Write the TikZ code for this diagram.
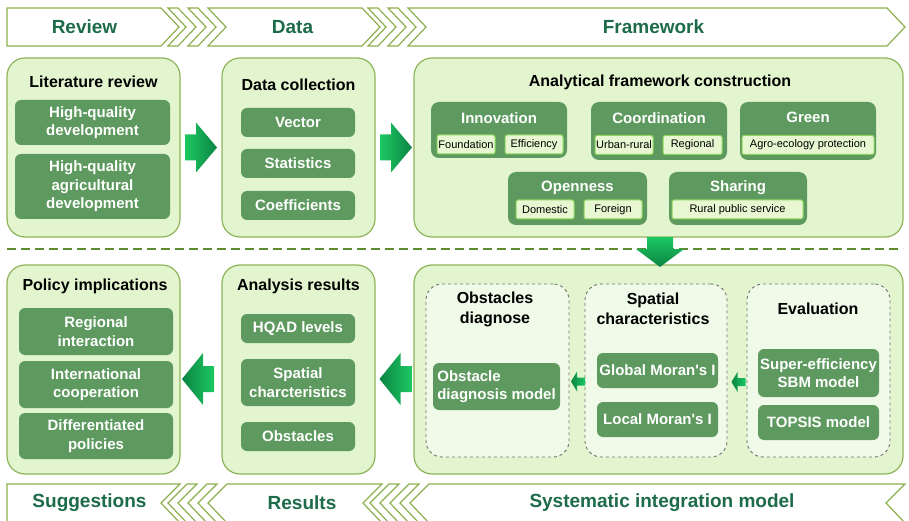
\documentclass[tikz,border=0pt]{standalone}
\usepackage{fontspec}
\setmainfont{Liberation Sans}[Ligatures=TeXOff]
\usetikzlibrary{positioning}
\definecolor{panelfill}{HTML}{E2F5CE}
\definecolor{panelline}{HTML}{8FB35A}
\definecolor{boxgreen}{HTML}{5E9A5F}
\definecolor{subfill}{HTML}{E6F7D2}
\definecolor{subline}{HTML}{8CD45A}
\definecolor{dashfill}{HTML}{F0FAE8}
\definecolor{bannerline}{HTML}{8DB04F}
\definecolor{bannertext}{HTML}{1D6B4A}
\definecolor{arrlight}{HTML}{1DC862}
\definecolor{arrdark}{HTML}{0B8443}
\definecolor{sepline}{HTML}{5E8A30}
\newcommand{\banfont}{\fontsize{19}{22}\selectfont\bfseries}
\newcommand{\ttlfont}{\fontsize{16}{20}\selectfont\bfseries}
\newcommand{\boxfont}{\fontsize{15}{18.5}\selectfont\bfseries}
\newcommand{\subfont}{\fontsize{11}{13}\selectfont}
\begin{document}
\begin{tikzpicture}[x=1pt,y=-1pt,
    banner/.style={draw=bannerline, fill=white, line width=1.2pt},
    bantext/.style={text=bannertext, font=\banfont},
    panel/.style={draw=panelline, fill=panelfill, line width=1.2pt, rounded corners=18pt, inner sep=0},
    dpanel/.style={draw=black!55, dashed, fill=dashfill, line width=0.9pt, rounded corners=16pt, inner sep=0},
    ptitle/.style={font=\ttlfont, align=center},
    dbox/.style={fill=boxgreen, rounded corners=6pt, text=white, font=\boxfont, align=center, inner sep=0},
    grp/.style={fill=boxgreen, rounded corners=8pt, inner sep=0},
    grptitle/.style={text=white, font=\boxfont},
    sbox/.style={draw=subline, fill=subfill, line width=1pt, rounded corners=2pt, font=\subfont, inner sep=0, minimum height=19pt},
    pics/rblock/.style={code={
        \shade[left color=arrlight, right color=arrdark]
            (-16,-13) -- (-5,-13) -- (-5,-25) -- (16,0) -- (-5,25) -- (-5,13) -- (-16,13) -- cycle;}},
    pics/lblock/.style={code={
        \shade[left color=arrdark, right color=arrlight]
            (16,-13) -- (5,-13) -- (5,-26) -- (-16,0) -- (5,26) -- (5,13) -- (16,13) -- cycle;}},
    pics/dblock/.style={code={
        \shade[top color=arrlight, bottom color=arrdark]
            (-13,-15) -- (-13,-3) -- (-24,-3) -- (0,15) -- (24,-3) -- (13,-3) -- (13,-15) -- cycle;}},
    pics/sblock/.style={code={
        \shade[left color=arrdark, right color=arrlight]
            (7,-4) -- (-1,-4) -- (-1,-10) -- (-7,0) -- (-1,10) -- (-1,4) -- (7,4) -- cycle;}}]
    \useasboundingbox (0,0) rectangle (909,521);

    % top banners
    \draw[banner] (7,8) -- (161,8) -- (179,27) -- (161,46) -- (7,46) -- cycle;
    \draw[banner] (208,8) -- (362,8) -- (380,27) -- (362,46) -- (208,46) -- (226,27) -- cycle;
    \draw[banner] (408,8) -- (887,8) -- (905,27) -- (887,46) -- (408,46) -- (426,27) -- cycle;
    \foreach \a in {168,188,368,388}
        \draw[banner] (\a,8) -- (\a+10,8) -- (\a+28,27) -- (\a+10,46) -- (\a,46) -- (\a+18,27) -- cycle;
    \node[bantext] (bReview) at (84.5,27) {Review};
    \node[bantext] (bData) at (292.5,27) {Data};
    \node[bantext] (bFrame) at (653.5,27) {Framework};

    % bottom banners
    \draw[banner] (7,484) -- (180,484) -- (161,503) -- (180,523) -- (7,523) -- cycle;
    \draw[banner] (208,503) -- (227,484) -- (382,484) -- (363,503) -- (382,523) -- (227,523) -- cycle;
    \draw[banner] (410,503) -- (429,484) -- (905,484) -- (886,503) -- (905,523) -- (429,523) -- cycle;
    \foreach \t in {168,188,370,390}
        \draw[banner] (\t,503) -- (\t+19,484) -- (\t+29,484) -- (\t+10,503) -- (\t+29,523) -- (\t+19,523) -- cycle;
    \node[bantext] (bSugg) at (89.5,503) {Suggestions};
    \node[bantext] (bRes) at (302,503) {Results};
    \node[bantext] (bSys) at (662,503) {Systematic integration model};

    % review and data
    \node[panel, minimum width=173pt, minimum height=179pt] (lit) at (93.5,147.5) {};
    \node[ptitle] (littl) at (93.5,82) {Literature review};
    \node[dbox, minimum width=155pt, minimum height=45pt] (hqd) at (92.5,122.5) {High-quality\\development};
    \node[dbox, minimum width=155pt, minimum height=65pt] (hqad) at (92.5,186.5) {High-quality\\agricultural\\development};

    \node[panel, minimum width=153pt, minimum height=179pt] (data) at (298.5,147.5) {};
    \node[ptitle] (datatl) at (298.5,85) {Data collection};
    \node[dbox, minimum width=114pt, minimum height=29pt] (vec) at (298,122.5) {Vector};
    \node[dbox, minimum width=114pt, minimum height=29pt] (stat) at (298,163.5) {Statistics};
    \node[dbox, minimum width=114pt, minimum height=29pt] (coef) at (298,205.5) {Coefficients};

    % framework
    \node[panel, minimum width=489pt, minimum height=179pt] (frame) at (658.5,147.5) {};
    \node[ptitle] (frametl) at (660,82) {Analytical framework construction};
    \node[grp, minimum width=136pt, minimum height=56pt] (innov) at (499,130) {};
    \node[grptitle] (innovtl) at (499,118) {Innovation};
    \node[sbox, minimum width=58pt] (found) at (466,144.5) {Foundation};
    \node[sbox, minimum width=58pt] (effic) at (534,144.5) {Efficiency};
    \node[grp, minimum width=136pt, minimum height=58pt] (coord) at (659,131) {};
    \node[grptitle] (coordtl) at (659,118) {Coordination};
    \node[sbox, minimum width=58pt] (urban) at (624,145) {Urban-rural};
    \node[sbox, minimum width=59pt] (regio) at (692.5,145) {Regional};
    \node[grp, minimum width=136pt, minimum height=58pt] (green) at (808,131) {};
    \node[grptitle] (greentl) at (808,117) {Green};
    \node[sbox, minimum width=132pt] (agro) at (808,145) {Agro-ecology protection};
    \node[grp, minimum width=139pt, minimum height=53pt] (open) at (577.5,198.5) {};
    \node[grptitle] (opentl) at (577.5,188) {Openness};
    \node[sbox, minimum width=58pt] (dom) at (545,209.5) {Domestic};
    \node[sbox, minimum width=58pt] (forgn) at (613,209.5) {Foreign};
    \node[grp, minimum width=138pt, minimum height=53pt] (share) at (738,198.5) {};
    \node[grptitle] (sharetl) at (738,188) {Sharing};
    \node[sbox, minimum width=131pt] (rps) at (737.5,209.5) {Rural public service};

    % separator
    \coordinate (sepL) at (7,249);
    \coordinate (sepR) at (903,249);
    \draw[sepline, line width=1.3pt, dash pattern=on 9pt off 5pt] (sepL) -- (sepR);

    % policy and results
    \node[panel, minimum width=173pt, minimum height=209pt] (policy) at (93.5,369.5) {};
    \node[ptitle] (policytl) at (95,286) {Policy implications};
    \node[dbox, minimum width=154pt, minimum height=47pt] (regint) at (96,331.5) {Regional\\interaction};
    \node[dbox, minimum width=154pt, minimum height=47pt] (intco) at (96,384.5) {International\\cooperation};
    \node[dbox, minimum width=154pt, minimum height=46pt] (diffp) at (96,436) {Differentiated\\policies};

    \node[panel, minimum width=153pt, minimum height=209pt] (results) at (298.5,369.5) {};
    \node[ptitle] (resultstl) at (298.5,286) {Analysis results};
    \node[dbox, minimum width=114pt, minimum height=29pt] (levels) at (298,328.5) {HQAD levels};
    \node[dbox, minimum width=114pt, minimum height=47pt] (spch) at (298,382.5) {Spatial\\charcteristics};
    \node[dbox, minimum width=114pt, minimum height=29pt] (obst) at (298,436.5) {Obstacles};

    % integration model
    \node[panel, minimum width=489pt, minimum height=209pt] (model) at (658.5,369.5) {};
    \node[dpanel, minimum width=143pt, minimum height=173pt] (obsd) at (497.5,370.5) {};
    \node[ptitle] (obsdtl) at (495,309) {Obstacles\\diagnose};
    \node[dbox, align=left, minimum width=127pt, minimum height=47pt] (odm) at (496.5,386.5) {Obstacle\\diagnosis model};
    \node[dpanel, minimum width=142pt, minimum height=173pt] (spat) at (656,370.5) {};
    \node[ptitle] (spattl) at (653,309) {Spatial\\characteristics};
    \node[dbox, minimum width=121pt, minimum height=35pt] (gmi) at (657.5,370.5) {Global Moran's I};
    \node[dbox, minimum width=121pt, minimum height=35pt] (lmi) at (657.5,419.5) {Local Moran's I};
    \node[dpanel, minimum width=143pt, minimum height=173pt] (evalp) at (818.5,370.5) {};
    \node[ptitle] (evaltl) at (818,309) {Evaluation};
    \node[dbox, minimum width=121pt, minimum height=48pt] (sbm) at (818.5,373) {Super-efficiency\\SBM model};
    \node[dbox, minimum width=121pt, minimum height=35pt] (topsis) at (818.5,422.5) {TOPSIS model};

    % arrows between the panels
    \pic (a1) at (201,147.5) {rblock};
    \pic (a2) at (396,147.5) {rblock};
    \pic (a3) at (660,252) {dblock};
    \pic (a4) at (395.5,379) {lblock};
    \pic (a5) at (198,379) {lblock};
    \pic (a6) at (578,381.5) {sblock};
    \pic (a7) at (738.5,382) {sblock};
\end{tikzpicture}
\end{document}
